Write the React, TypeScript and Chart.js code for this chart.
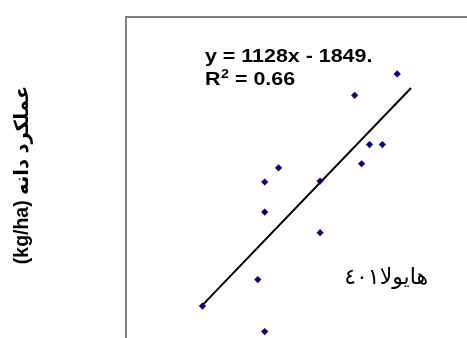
import React, { useEffect, useRef } from "react";
import { Chart, registerables } from "chart.js";

Chart.register(...registerables);

// ---- data ----
const xValues = [4.97, 4.54, 4.69, 4.82, 4.61, 3.77, 3.63, 4.19, 3.63, 4.19, 3.56, 3.0, 3.63];
const yValues = [4070, 3835, 3295, 3295, 3085, 3040, 2885, 2895, 2555, 2330, 1815, 1525, 1245];
const trendX = [3.0, 5.11];
const trendSlope = 1128;
const trendIntercept = -1849;
const equationText = "y = 1128x - 1849.";
const r2Parts = ["R", "2", " = 0.66"];
const seriesLabel = "هایولا٤٠١";
const yAxisTitle = "عملکرد دانه (kg/ha)";
const xRange = [2.227, 5.767];
const yRange = [1131, 4694];

const decorPlugin = {
  id: "decor",
  beforeDatasetsDraw(chart: any) {
    const { ctx, chartArea } = chart;
    const { left, top, right, bottom } = chartArea;
    ctx.save();
    ctx.strokeStyle = "#808080";
    ctx.lineWidth = 2;
    ctx.strokeRect(left, top, right - left, bottom - top);
    ctx.restore();
  },
  afterDraw(chart: any) {
    const { ctx } = chart;
    // regression equation
    ctx.save();
    ctx.fillStyle = "#000";
    ctx.textBaseline = "alphabetic";
    ctx.textAlign = "left";
    ctx.translate(205, 62);
    ctx.scale(1.19, 1);
    const big = "bold 18px 'Liberation Sans', Arial, sans-serif";
    const small = "bold 12px 'Liberation Sans', Arial, sans-serif";
    ctx.font = big;
    ctx.fillText(equationText, 0, 0);
    let cx = 0;
    ctx.fillText(r2Parts[0], cx, 22.5);
    cx += ctx.measureText(r2Parts[0]).width + 0.5;
    ctx.font = small;
    ctx.fillText(r2Parts[1], cx, 22.5 - 6.5);
    cx += ctx.measureText(r2Parts[1]).width;
    ctx.font = big;
    ctx.fillText(r2Parts[2], cx, 22.5);
    ctx.restore();

    // series label
    ctx.save();
    ctx.fillStyle = "#000";
    ctx.font = "22px 'DejaVu Sans', sans-serif";
    ctx.textBaseline = "alphabetic";
    ctx.textAlign = "right";
    ctx.direction = "rtl";
    ctx.fillText(seriesLabel, 428, 284);
    ctx.restore();

    // y axis title
    ctx.save();
    ctx.fillStyle = "#000";
    ctx.font = "bold 19.5px 'Liberation Sans', 'DejaVu Sans', sans-serif";
    ctx.textBaseline = "middle";
    ctx.textAlign = "center";
    ctx.direction = "rtl";
    ctx.translate(23, 175);
    ctx.rotate(-Math.PI / 2);
    ctx.fillText(yAxisTitle, 0, 0);
    ctx.restore();
  },
};

export default function App() {
  const canvasRef = useRef<HTMLCanvasElement | null>(null);

  useEffect(() => {
    if (!canvasRef.current) return;
    const points = xValues.map((x, i) => ({ x, y: yValues[i] }));
    const trend = trendX.map((x) => ({ x, y: trendSlope * x + trendIntercept }));
    const chart = new Chart(canvasRef.current, {
      type: "scatter",
      data: {
        datasets: [
          {
            label: seriesLabel,
            data: points,
            pointStyle: "rectRot",
            pointRadius: 3.6,
            pointBackgroundColor: "#000080",
            pointBorderColor: "#000080",
            pointBorderWidth: 0,
            order: 1,
          },
          {
            label: "trend",
            data: trend,
            showLine: true,
            borderColor: "#000000",
            borderWidth: 2,
            pointRadius: 0,
            fill: false,
            order: 2,
          } as any,
        ],
      },
      options: {
        animation: false,
        responsive: false,
        devicePixelRatio: 1,
        layout: { padding: { left: 126, top: 17, right: 0, bottom: 3 } },
        plugins: {
          legend: { display: false },
          tooltip: { enabled: false },
        },
        scales: {
          x: { type: "linear", display: false, min: xRange[0], max: xRange[1] },
          y: { type: "linear", display: false, min: yRange[0], max: yRange[1] },
        },
      },
      plugins: [decorPlugin],
    });
    return () => chart.destroy();
  }, []);

  return (
    <div
      style={{
        position: "absolute",
        left: 0,
        top: 0,
        width: 467,
        height: 338,
        overflow: "hidden",
        background: "#ffffff",
      }}
    >
      <canvas ref={canvasRef} width={480} height={346} style={{ display: "block" }} />
    </div>
  );
}
